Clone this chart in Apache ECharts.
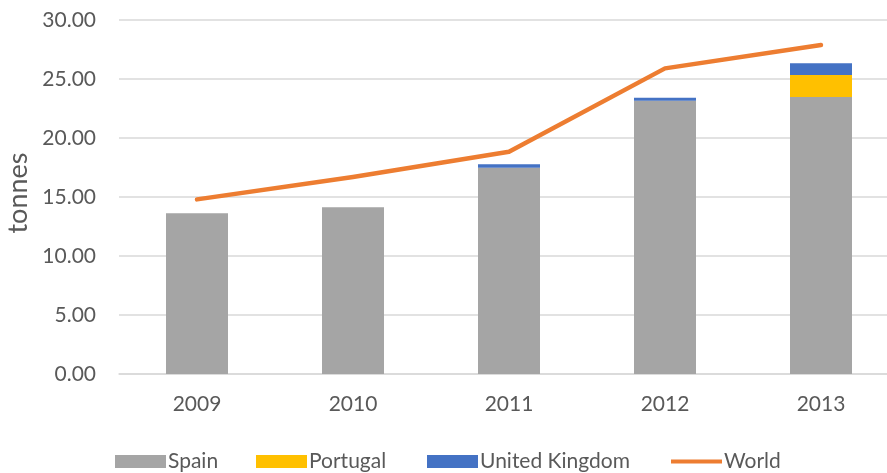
<!DOCTYPE html>
<html>
<head>
<meta charset="utf-8">
<script src="https://cdn.jsdelivr.net/npm/echarts@6/dist/echarts.min.js"></script>
<style>
html,body{margin:0;padding:0;background:#fff;overflow:hidden;}
#main{width:900px;height:473px;}
</style>
</head>
<body>
<div id="main"></div>
<script>
var years = ['2009', '2010', '2011', '2012', '2013'];
var spain = [13.62, 14.13, 17.48, 23.16, 23.47];
var portugal = [0, 0, 0, 0, 1.87];
var uk = [0, 0, 0.3, 0.25, 0.99];
var world = [14.8, 16.7, 18.84, 25.9, 27.88];
var yTicks = [0, 5, 10, 15, 20, 25, 30];

var font = 'Lato';
var txt = '#595959';
// the plot runs a bit past the right edge, as in the picture
var myChart = echarts.init(document.getElementById('main'));

function legendAt(left, name, icon) {
    return {
        left: left,
        top: 451,
        padding: 0,
        itemWidth: 51,
        itemHeight: 13,
        textStyle: {fontSize: 21, color: txt, fontFamily: font, padding: [0, 0, 0, -3]},
        data: [{name: name, icon: icon}]
    };
}

myChart.setOption({
    animation: false,
    textStyle: {fontFamily: font},
    grid: {left: 119, top: 20, width: 780, height: 354, outerBoundsMode: 'none', containLabel: false},
    legend: [
        legendAt(115, 'Spain', 'rect'),
        legendAt(256, 'Portugal', 'rect'),
        legendAt(427, 'United Kingdom', 'rect'),
        legendAt(671, 'World', 'path://M0,0 L55,0 L55,4.5 L0,4.5 Z')
    ],
    xAxis: {
        type: 'category',
        data: years,
        axisTick: {show: false},
        axisLine: {lineStyle: {color: '#D9D9D9', width: 1.5}},
        axisLabel: {fontSize: 21, color: txt, margin: 20}
    },
    yAxis: {
        type: 'value',
        min: yTicks[0],
        max: yTicks[yTicks.length - 1],
        interval: 5,
        name: 'tonnes',
        nameLocation: 'middle',
        nameGap: 86,
        nameTextStyle: {fontSize: 27, color: txt, fontFamily: font, padding: [0, 0, 0, 8]},
        axisLine: {show: false},
        axisTick: {show: false},
        axisLabel: {fontSize: 21, color: txt, margin: 23, formatter: function (v) { return v.toFixed(2); }},
        splitLine: {lineStyle: {color: '#D9D9D9', width: 1.5}}
    },
    series: [
        {name: 'Spain', type: 'bar', stack: 'a', barWidth: 62, data: spain, itemStyle: {color: '#A5A5A5'}},
        {name: 'Portugal', type: 'bar', stack: 'a', data: portugal, itemStyle: {color: '#FFC000'}},
        {name: 'United Kingdom', type: 'bar', stack: 'a', data: uk, itemStyle: {color: '#4472C4'}},
        {name: 'World', type: 'line', data: world, symbol: 'none',
            lineStyle: {color: '#ED7D31', width: 4.5, cap: 'round', join: 'round'},
            itemStyle: {color: '#ED7D31'}}
    ]
});
</script>
</body>
</html>
